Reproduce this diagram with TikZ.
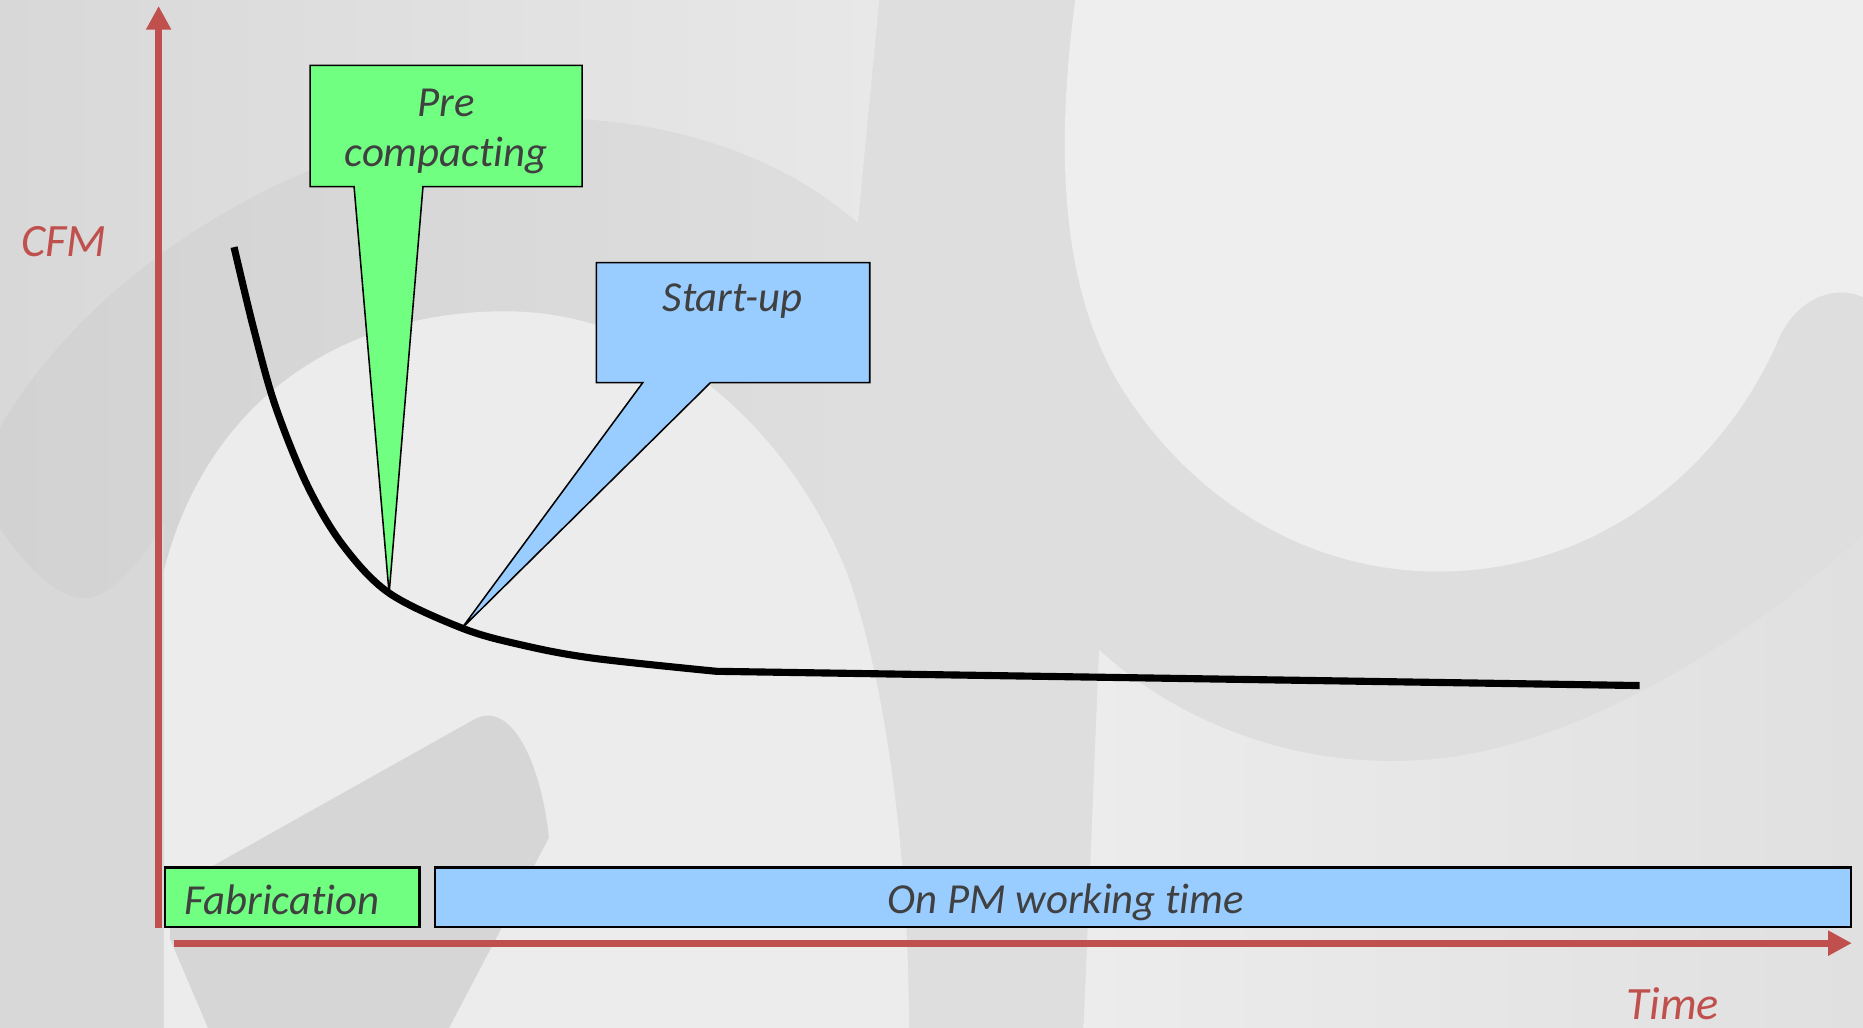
\documentclass[tikz,border=0pt]{standalone}
\usepackage{fontspec}
\setmainfont{Carlito}[Ligatures={NoCommon}]
\usetikzlibrary{arrows.meta}

\definecolor{axisred}{HTML}{C0504D}
\definecolor{labelgrey}{HTML}{404040}
\definecolor{phasegreen}{HTML}{70FF80}
\definecolor{phaseblue}{HTML}{99CCFF}
\definecolor{bgbase}{HTML}{DEDEDE}
\definecolor{bgleft}{HTML}{D8D8D8}
\definecolor{bgtip}{HTML}{D2D2D2}
\definecolor{bgtop}{HTML}{E8E8E8}
\definecolor{bgedge}{HTML}{E0E0E0}
\definecolor{bgarm}{HTML}{D6D6D6}
\definecolor{bglight}{HTML}{ECECEC}
\definecolor{bglighter}{HTML}{EEEEEE}

\begin{document}
\begin{tikzpicture}[x=1pt,y=-1pt,
  axis/.style={draw=axisred, line width=6pt, -{Triangle[length=20pt,width=20pt]}},
  callout/.style={draw=black, line width=1.3pt, line join=miter},
  phasebox/.style={draw=black, line width=2pt, inner sep=0pt, minimum height=50pt},
  boxtext/.style={text=labelgrey, font=\fontsize{36}{42}\selectfont\itshape, inner sep=0pt},
  axislabel/.style={text=axisred, font=\fontsize{39}{46}\selectfont\itshape, inner sep=0pt},
  trend/.style={draw=black, line width=6pt, line join=round}
]
\useasboundingbox (0,0) rectangle (1568,865);

% ---- watermark background ----
\fill[bgbase] (0,0) rectangle (1568,865);
% upper-left field above the arc
\shade[left color=bgleft, right color=bgtop] (0,0) -- (740,0) -- (722,188)
  .. controls (680,150) and (600,105) .. (480,100)
  .. controls (280,95) and (80,220) .. (0,360) -- cycle;
% arc band ending in a rounded tip on the left
\shade[left color=bgtip, right color=bgbase] (0,360) .. controls (80,220) and (280,95) .. (480,100)
  .. controls (600,105) and (680,150) .. (722,188)
  -- (722,480) -- (138,480)
  .. controls (120,470) and (100,495) .. (80,502)
  .. controls (60,510) and (30,490) .. (0,445) -- cycle;
\fill[bgleft] (0,445) .. controls (30,490) and (60,510) .. (80,502)
  .. controls (100,495) and (120,470) .. (138,440) -- (138,865) -- (0,865) -- cycle;
% large light disc
\fill[bglight] (138,865) -- (138,480)
  .. controls (175,335) and (290,262) .. (425,262)
  .. controls (560,262) and (665,365) .. (712,480)
  .. controls (745,570) and (765,720) .. (765,865) -- cycle;
% diagonal arm at the bottom left
\fill[bgarm] (143,749) -- (400,605)
  .. controls (430,590) and (455,640) .. (462,705)
  -- (378,865) -- (175,865) -- (143,790) -- cycle;
% inside of the U on the right
\fill[bglighter] (905,0) .. controls (885,150) and (900,250) .. (940,320)
  .. controls (1000,420) and (1100,481) .. (1210,481)
  .. controls (1350,481) and (1450,390) .. (1495,290)
  .. controls (1508,255) and (1540,238) .. (1568,250) -- (1568,0) -- cycle;
% field below the U
\shade[left color=bglight, right color=bgedge] (925,547)
  .. controls (1000,615) and (1100,645) .. (1190,640)
  .. controls (1320,635) and (1470,540) .. (1568,450)
  -- (1568,865) -- (912,865) -- cycle;

% ---- phase bars ----
\node[phasebox, fill=phasegreen, minimum width=214pt] (fab) at (246,755) {};
\node[phasebox, fill=phaseblue, minimum width=1192pt] (pm) at (962,755) {};
\node[boxtext, anchor=base west] (fabtext) at (155,769.4) {Fabrication};
\node[boxtext, anchor=base] (pmtext) at (897,769) {On PM working time};

% ---- axes ----
\coordinate (yfoot) at (133.5,781);
\coordinate (ytip) at (133.5,5);
\coordinate (xfoot) at (146.5,793.8);
\coordinate (xtip) at (1558.6,793.8);
\draw[axis] (yfoot) -- (ytip);
\draw[axis] (xfoot) -- (xtip);
\node[axislabel, anchor=base] (cfm) at (53.7,216) {CFM};
\node[axislabel, anchor=base] (time) at (1408,858) {Time};

% ---- callouts ----
\coordinate (pretip) at (327.5,499.5);
\coordinate (starttip) at (388.5,529);
\draw[callout, fill=phasegreen] (261,55) -- (490,55) -- (490,157) -- (356,157)
  -- (pretip) -- (298,157) -- (261,157) -- cycle;
\draw[callout, fill=phaseblue] (502,221) -- (732,221) -- (732,322) -- (598,322)
  -- (starttip) -- (541,322) -- (502,322) -- cycle;
\node[boxtext, anchor=base] (pre1) at (375.5,98) {Pre};
\node[boxtext, anchor=base] (pre2) at (375.5,140) {compacting};
\node[boxtext, anchor=base] (startup) at (616.6,262.3) {Start-up};

% ---- CFM decay curve ----
\draw[trend] plot[smooth, tension=0.55] coordinates {
  (197,208) (213.5,276.6) (231.5,341) (258.4,408) (288.4,458.6)
  (327.3,499) (388.7,528.6) (438,542.6) (498,553.8) (603,565)}
  -- (1380,577);
\end{tikzpicture}
\end{document}
